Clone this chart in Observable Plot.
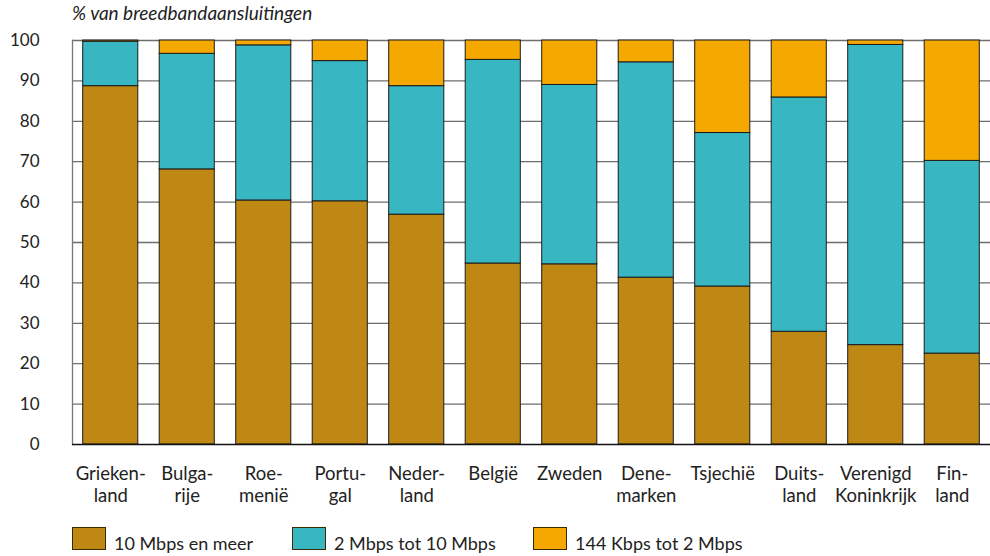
<!DOCTYPE html>
<html>
<head>
<meta charset="utf-8">
<script src="https://cdn.jsdelivr.net/npm/d3@7"></script>
<script src="https://cdn.jsdelivr.net/npm/@observablehq/plot@0.6"></script>
<style>
  html, body { margin: 0; padding: 0; background: #fff; }
  #page { position: relative; width: 990px; height: 556px; font-family: Lato, "Open Sans", sans-serif; color: #222; }
  #titel { position: absolute; left: 72px; top: 2px; font-size: 19px; font-style: italic; line-height: 22px; white-space: nowrap; }
  #grafiek { position: absolute; left: 0; top: 24px; }
  .sw { position: absolute; top: 527px; width: 32px; height: 21px; border: 1px solid #3a2a00; }
  .lt { position: absolute; top: 532px; font-size: 18px; line-height: 22px; white-space: nowrap; }
</style>
</head>
<body>
<div id="page">
  <div id="titel">% van breedbandaansluitingen</div>
  <div id="grafiek"></div>
  <div id="legenda"></div>
</div>
<script>
// Landen, in volgorde van aandeel aansluitingen van 10 Mbps en meer
const landen = ["Griekenland", "Bulgarije", "Roemenië", "Portugal", "Nederland", "België",
  "Zweden", "Denemarken", "Tsjechië", "Duitsland", "Verenigd Koninkrijk", "Finland"];
const landLabels = ["Grieken-\nland", "Bulga-\nrije", "Roe-\nmenië", "Portu-\ngal", "Neder-\nland", "België",
  "Zweden", "Dene-\nmarken", "Tsjechië", "Duits-\nland", "Verenigd\nKoninkrijk", "Fin-\nland"];

// Snelheidsklassen en kleuren
const klassen = ["10 Mbps en meer", "2 Mbps tot 10 Mbps", "144 Kbps tot 2 Mbps"];
const kleuren = ["#bf8714", "#38b7c2", "#f5a800"];

// Aandeel per klasse (% van breedbandaansluitingen)
const snel    = [88.7, 68.1, 60.4, 60.2, 56.9, 44.8, 44.6, 41.3, 39.1, 27.9, 24.6, 22.5];
const midden  = [11.0, 28.6, 38.4, 34.7, 31.8, 50.4, 44.4, 53.3, 38.0, 58.0, 74.3, 47.7];
const langzaam = [0.3, 3.3, 1.2, 5.1, 11.3, 4.8, 11.0, 5.4, 22.9, 14.1, 1.1, 29.8];

const yTicks = [0, 10, 20, 30, 40, 50, 60, 70, 80, 90, 100];

const reeksen = [snel, midden, langzaam];
const rijen = [];
klassen.forEach((k, j) => {
  landen.forEach((land, i) => rijen.push({land, klasse: k, waarde: reeksen[j][i]}));
});

const plot = Plot.plot({
  width: 990,
  height: 492,
  marginLeft: 72,
  marginRight: 0,
  marginTop: 16,
  marginBottom: 72,
  style: {fontFamily: "Lato, 'Open Sans', sans-serif", fontSize: "17px", color: "#222", background: "#fff"},
  x: {domain: landen, paddingInner: 0.28, paddingOuter: 0.14, round: false, label: null},
  y: {domain: [0, 100], label: null},
  color: {domain: klassen, range: kleuren},
  marks: [
    Plot.ruleY(yTicks.filter(d => d > 0), {stroke: "#6e6e6e", strokeWidth: 1.3}),
    Plot.frame({anchor: "left", stroke: "#777", strokeWidth: 1.3}),
    Plot.frame({anchor: "right", stroke: "#ccc", strokeWidth: 1}),
    Plot.barY(rijen, {x: "land", y: "waarde", fill: "klasse", stroke: "#1b1b1b", strokeWidth: 1}),
    Plot.ruleY([0], {stroke: "#111", strokeWidth: 1.5}),
    Plot.axisY(yTicks, {tickSize: 0, tickPadding: 33, label: null, fontSize: 17}),
    Plot.axisX({tickSize: 0, tickPadding: 20, label: null, fontSize: 18.5, lineHeight: 1.19,
      tickFormat: d => landLabels[landen.indexOf(d)]})
  ]
});
document.getElementById("grafiek").appendChild(plot);

// Legenda
const legenda = document.getElementById("legenda");
const swX = [72, 292, 533];
klassen.forEach((k, j) => {
  const sw = document.createElement("div");
  sw.className = "sw";
  sw.style.left = swX[j] + "px";
  sw.style.background = kleuren[j];
  legenda.appendChild(sw);
  const t = document.createElement("div");
  t.className = "lt";
  t.style.left = (swX[j] + 42) + "px";
  t.textContent = k;
  legenda.appendChild(t);
});
</script>
</body>
</html>
